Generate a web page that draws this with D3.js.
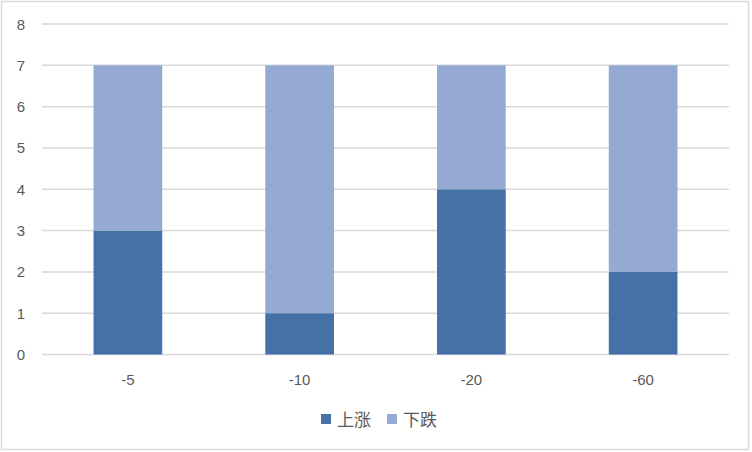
<!DOCTYPE html>
<html>
<head>
<meta charset="utf-8">
<script src="https://cdn.jsdelivr.net/npm/d3@7"></script>
<style>
  body { margin: 0; background: #fff; }
  text { font-family: "Noto Sans CJK SC", "Liberation Sans", sans-serif; }
</style>
</head>
<body>
<svg id="chart"></svg>
<script>
const categories = ["-5", "-10", "-20", "-60"];
const rise = [3, 1, 4, 2];
const fall = [4, 6, 3, 5];
const seriesNames = ["上涨", "下跌"];
const yTicks = [0, 1, 2, 3, 4, 5, 6, 7, 8];

const width = 752, height = 452;
const colors = ["#4472a7", "#95aad3"];

const svg = d3.select("#chart").attr("width", width).attr("height", height);

svg.append("rect")
  .attr("x", 1.5).attr("y", 1.5)
  .attr("width", 747).attr("height", 448)
  .attr("fill", "#fff").attr("stroke", "#d9d9d9").attr("stroke-width", 1.5);

const x = d3.scaleBand().domain(categories).range([42, 729]).paddingInner(0.6).paddingOuter(0.3);
const y = d3.scaleLinear().domain([0, 8]).range([354.5, 24]);

// gridlines
svg.append("g").selectAll("line").data(yTicks).enter().append("line")
  .attr("x1", 42).attr("x2", 729)
  .attr("y1", d => y(d)).attr("y2", d => y(d))
  .attr("stroke", "#d9d9d9").attr("stroke-width", 1.5);

svg.append("g").selectAll("text").data(yTicks).enter().append("text")
  .attr("x", 25).attr("y", d => y(d) + 5.5)
  .attr("text-anchor", "end")
  .attr("font-size", 15).attr("fill", "#595959")
  .style("font-family", "'Liberation Sans', sans-serif")
  .text(d => d);

const table = categories.map((c, i) => ({ cat: c, rise: rise[i], fall: fall[i] }));
const stack = d3.stack().keys(["rise", "fall"])(table);

svg.append("g").selectAll("g").data(stack).enter().append("g")
  .attr("fill", (d, i) => colors[i])
  .selectAll("rect").data(d => d).enter().append("rect")
  .attr("x", d => x(d.data.cat))
  .attr("width", x.bandwidth())
  .attr("y", d => y(d[1]))
  .attr("height", d => y(d[0]) - y(d[1]));

svg.append("g").selectAll("text").data(categories).enter().append("text")
  .attr("x", d => x(d) + x.bandwidth() / 2).attr("y", 385)
  .attr("text-anchor", "middle")
  .attr("font-size", 15).attr("fill", "#595959")
  .style("font-family", "'Liberation Sans', sans-serif")
  .text(d => d);

// legend
const legend = svg.append("g").attr("transform", "translate(321,414)");
const item = legend.selectAll("g").data(seriesNames).enter().append("g")
  .attr("transform", (d, i) => `translate(${i * 66},0)`);
item.append("rect").attr("width", 10).attr("height", 10).attr("fill", (d, i) => colors[i]);
item.append("text").attr("x", 16).attr("y", 11.5)
  .attr("font-size", 17).attr("fill", "#595959")
  .text(d => d);
</script>
</body>
</html>
